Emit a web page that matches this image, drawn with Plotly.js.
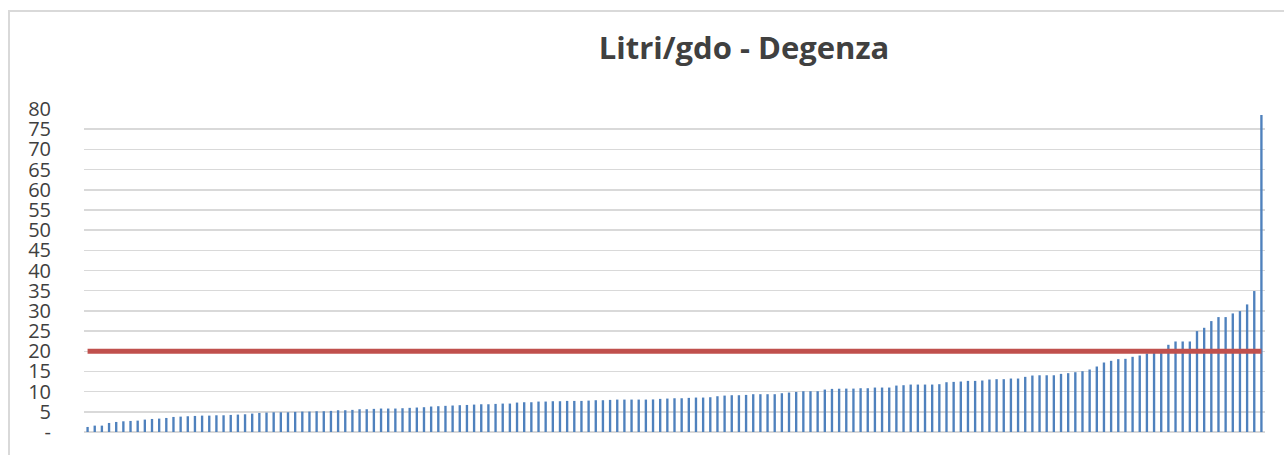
<!DOCTYPE html>
<html>
<head>
<meta charset="utf-8">
<script src="https://cdn.plot.ly/plotly-3.0.1.min.js"></script>
<style>
  html, body { margin: 0; padding: 0; background: #fff; overflow: hidden; }
  #frame { position: absolute; left: 8px; top: 10px; width: 1300px; height: 470px;
           border-left: 2px solid #d9d9d9; border-top: 2px solid #d9d9d9; }
  #chart { position: absolute; left: 0; top: 0; width: 1284px; height: 455px; }
</style>
</head>
<body>
<div id="frame"></div>
<div id="chart"></div>
<script>
// Litri/gdo per reparto di degenza (ordinati in modo crescente)
const valori = [
  1.25, 1.58, 1.58, 2.24, 2.49, 2.65, 2.74, 2.82, 3.07, 3.23,
  3.32, 3.48, 3.73, 3.81, 3.90, 3.98, 4.06, 4.06, 4.14, 4.14,
  4.23, 4.31, 4.39, 4.56, 4.72, 4.81, 4.89, 4.89, 4.89, 4.98,
  5.06, 5.06, 5.14, 5.14, 5.23, 5.39, 5.39, 5.48, 5.64, 5.64,
  5.73, 5.81, 5.81, 5.81, 5.89, 5.98, 6.06, 6.14, 6.31, 6.39,
  6.48, 6.56, 6.64, 6.70, 6.79, 6.87, 6.87, 6.96, 7.04, 7.04,
  7.29, 7.37, 7.37, 7.54, 7.54, 7.62, 7.62, 7.70, 7.70, 7.70,
  7.78, 7.87, 7.87, 7.95, 8.03, 8.03, 8.03, 8.03, 8.03, 8.07,
  8.20, 8.28, 8.36, 8.36, 8.45, 8.53, 8.53, 8.61, 8.86, 9.02,
  9.11, 9.11, 9.19, 9.36, 9.36, 9.36, 9.36, 9.60, 9.77, 9.93,
  10.10, 10.10, 10.10, 10.51, 10.68, 10.72, 10.75, 10.75, 10.84, 10.84,
  11.01, 11.01, 11.01, 11.50, 11.59, 11.75, 11.75, 11.75, 11.75, 11.84,
  12.33, 12.41, 12.50, 12.66, 12.66, 12.75, 13.00, 13.08, 13.08, 13.24,
  13.24, 13.66, 13.99, 14.05, 14.05, 14.05, 14.40, 14.57, 14.81, 15.06,
  15.48, 16.22, 17.21, 17.63, 18.04, 18.12, 18.62, 18.95, 19.45, 19.61,
  20.20, 21.60, 22.42, 22.42, 22.42, 24.99, 25.81, 27.47, 28.46, 28.46,
  29.37, 29.95, 31.60, 34.91, 78.50
];
const categorie = valori.map((v, i) => i + 1);
const soglia = [20, 20];
const sogliaX = [categorie[0], categorie[categorie.length - 1]];
const tickValori = [0, 5, 10, 15, 20, 25, 30, 35, 40, 45, 50, 55, 60, 65, 70, 75, 80];
const tickTesti = ['-', '5', '10', '15', '20', '25', '30', '35', '40', '45', '50', '55', '60', '65', '70', '75', '80'];

const traces = [
  {
    type: 'bar', x: categorie, y: valori,
    marker: { color: '#4f81bd', line: { width: 0 } },
    hoverinfo: 'y', showlegend: false
  },
  {
    type: 'scatter', mode: 'lines', x: sogliaX, y: soglia,
    line: { color: '#c0504d', width: 5 },
    hoverinfo: 'skip', showlegend: false
  }
];

const layout = {
  width: 1284, height: 455,
  margin: { l: 84, r: 19, t: 109, b: 23, pad: 0 },
  paper_bgcolor: 'rgba(0,0,0,0)',
  plot_bgcolor: 'rgba(0,0,0,0)',
  bargap: 0.67,
  showlegend: false,
  title: {
    text: '<b>Litri/gdo - Degenza</b>',
    font: { family: 'Open Sans, sans-serif', size: 31, color: '#404040' },
    x: 744 / 1284, xref: 'container', xanchor: 'center',
    y: 1 - 48 / 455, yref: 'container', yanchor: 'middle'
  },
  xaxis: {
    type: 'linear',
    range: [0.5, categorie.length + 0.5],
    showticklabels: false, showgrid: false, zeroline: false,
    showline: false, ticks: ''
  },
  yaxis: {
    range: [0, 80],
    tickmode: 'array', tickvals: tickValori, ticktext: tickTesti,
    showgrid: true, gridcolor: '#d9d9d9', gridwidth: 1.5,
    zeroline: true, zerolinecolor: '#d9d9d9', zerolinewidth: 1.5,
    showline: false,
    ticks: 'outside', ticklen: 28, tickcolor: 'rgba(0,0,0,0)',
    tickfont: { family: 'Open Sans, sans-serif', size: 20, color: '#404040' }
  }
};

Plotly.newPlot('chart', traces, layout, { displayModeBar: false, staticPlot: true });
</script>
</body>
</html>
